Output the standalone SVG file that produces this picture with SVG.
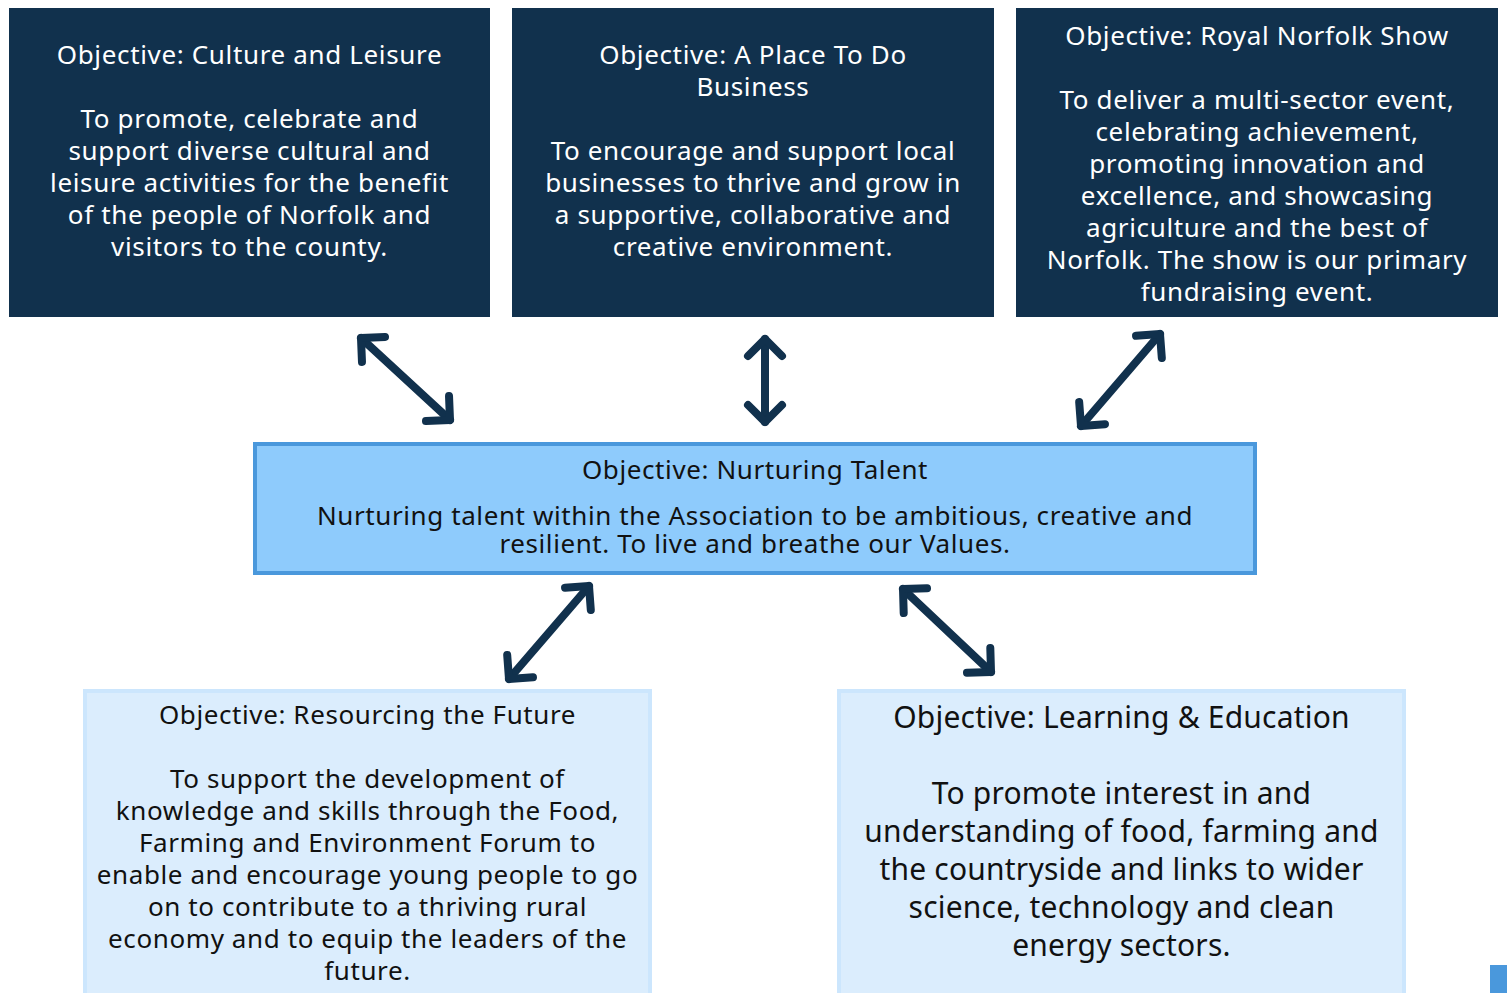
<svg xmlns="http://www.w3.org/2000/svg" width="1507" height="993" viewBox="0 0 1507 993">
<style>
.dark{fill:#11314d}
.mid{fill:#8ecbfc;stroke:#4a98dc;stroke-width:4}
.light{fill:#dbedfd;stroke:#cce6fd;stroke-width:4}
text{font-family:"Noto Sans","Open Sans","DejaVu Sans",sans-serif;text-anchor:middle}
.w{fill:#ffffff;font-size:26px;letter-spacing:0.65px}
.k{fill:#111111;font-size:26px;letter-spacing:0.6px}
.kl{fill:#111111;font-size:30px;letter-spacing:0.2px}
.arr{stroke:#11314d;stroke-width:8;stroke-linecap:round;fill:none;marker-start:url(#head);marker-end:url(#head)}
</style>
<defs>
<marker id="head" markerUnits="userSpaceOnUse" viewBox="-30 -30 40 60" markerWidth="40" markerHeight="60" refX="0" refY="0" orient="auto-start-reverse">
<path d="M-17,-17 L0,0 L-17,17" fill="none" stroke="#11314d" stroke-width="8" stroke-linecap="round" stroke-linejoin="round"/>
</marker>
</defs>
<rect x="0" y="0" width="1507" height="993" fill="#ffffff"/>
<g id="culture">
<rect class="dark" x="9" y="8" width="481" height="309"/>
<text class="w" x="249.5" y="64">Objective: Culture and Leisure</text>
<text class="w" x="249.5" y="128">To promote, celebrate and</text>
<text class="w" x="249.5" y="160">support diverse cultural and</text>
<text class="w" x="249.5" y="192">leisure activities for the benefit</text>
<text class="w" x="249.5" y="224">of the people of Norfolk and</text>
<text class="w" x="249.5" y="256">visitors to the county.</text>
</g>
<g id="business">
<rect class="dark" x="512" y="8" width="482" height="309"/>
<text class="w" x="753" y="64">Objective: A Place To Do</text>
<text class="w" x="753" y="96">Business</text>
<text class="w" x="753" y="160">To encourage and support local</text>
<text class="w" x="753" y="192">businesses to thrive and grow in</text>
<text class="w" x="753" y="224">a supportive, collaborative and</text>
<text class="w" x="753" y="256">creative environment.</text>
</g>
<g id="show">
<rect class="dark" x="1016" y="8" width="482" height="309"/>
<text class="w" x="1257" y="45">Objective: Royal Norfolk Show</text>
<text class="w" x="1257" y="109">To deliver a multi-sector event,</text>
<text class="w" x="1257" y="141">celebrating achievement,</text>
<text class="w" x="1257" y="173">promoting innovation and</text>
<text class="w" x="1257" y="205">excellence, and showcasing</text>
<text class="w" x="1257" y="237">agriculture and the best of</text>
<text class="w" x="1257" y="269">Norfolk. The show is our primary</text>
<text class="w" x="1257" y="301">fundraising event.</text>
</g>
<g id="talent">
<rect class="mid" x="255" y="444" width="1000" height="129"/>
<text class="k" x="755" y="479">Objective: Nurturing Talent</text>
<text class="k" x="755" y="525">Nurturing talent within the Association to be ambitious, creative and</text>
<text class="k" x="755" y="553">resilient. To live and breathe our Values.</text>
</g>
<g id="resourcing">
<rect class="light" x="85" y="691" width="565" height="304"/>
<text class="k" x="367.5" y="724">Objective: Resourcing the Future</text>
<text class="k" x="367.5" y="788">To support the development of</text>
<text class="k" x="367.5" y="820">knowledge and skills through the Food,</text>
<text class="k" x="367.5" y="852">Farming and Environment Forum to</text>
<text class="k" x="367.5" y="884">enable and encourage young people to go</text>
<text class="k" x="367.5" y="916">on to contribute to a thriving rural</text>
<text class="k" x="367.5" y="948">economy and to equip the leaders of the</text>
<text class="k" x="367.5" y="980">future.</text>
</g>
<g id="learning">
<rect class="light" x="839" y="691" width="565" height="304"/>
<text class="kl" x="1121.5" y="728">Objective: Learning &amp; Education</text>
<text class="kl" x="1121.5" y="804">To promote interest in and</text>
<text class="kl" x="1121.5" y="842">understanding of food, farming and</text>
<text class="kl" x="1121.5" y="880">the countryside and links to wider</text>
<text class="kl" x="1121.5" y="918">science, technology and clean</text>
<text class="kl" x="1121.5" y="956">energy sectors.</text>
</g>
<rect x="1490" y="965" width="17" height="28" fill="#4a98dc"/>
<g id="connectors">
<line class="arr" x1="361" y1="338" x2="450" y2="420"/>
<line class="arr" x1="765" y1="339" x2="765" y2="422"/>
<line class="arr" x1="1160" y1="334" x2="1081" y2="426"/>
<line class="arr" x1="589" y1="586" x2="509" y2="679"/>
<line class="arr" x1="903" y1="589" x2="991" y2="672"/>
</g>
</svg>
